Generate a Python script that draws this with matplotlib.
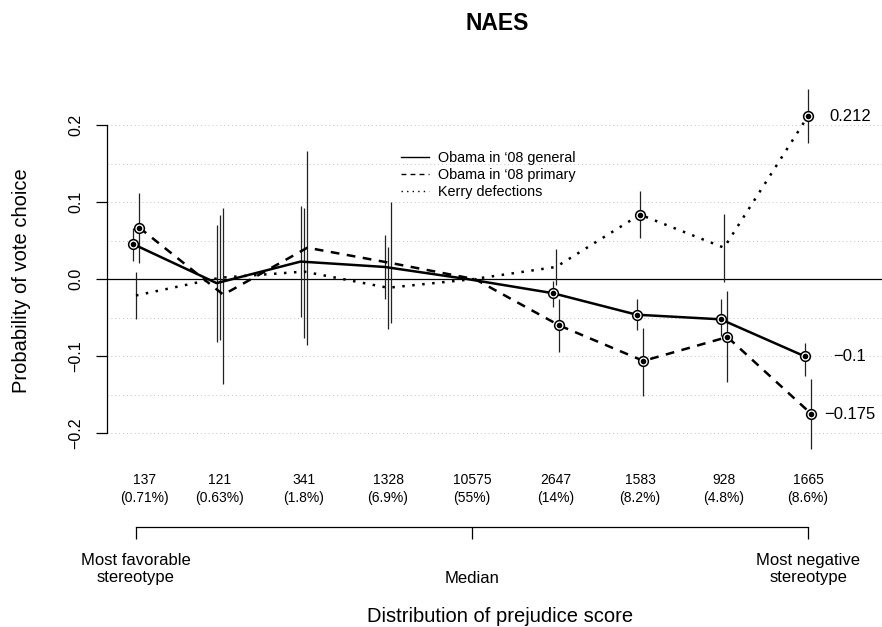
import matplotlib.pyplot as plt
import numpy as np
from matplotlib.lines import Line2D

plt.rcParams['font.family'] = ['Liberation Sans', 'DejaVu Sans']

# respondents in each prejudice-score group (most favorable -> most negative)
counts = [137, 121, 341, 1328, 10575, 2647, 1583, 928, 1665]

# effect estimates with 95% intervals; the median group is the baseline
general = [0.046, -0.005, 0.023, 0.016, 0.0, -0.018, -0.046, -0.052, -0.100]
general_lo = [0.024, -0.082, -0.049, -0.026, np.nan, -0.036, -0.066, -0.074, -0.125]
general_hi = [0.067, 0.071, 0.095, 0.058, np.nan, -0.002, -0.025, -0.026, -0.083]

primary = [0.067, -0.020, 0.041, 0.021, 0.0, -0.060, -0.106, -0.075, -0.175]
primary_lo = [0.021, -0.136, -0.085, -0.057, np.nan, -0.094, -0.151, -0.133, -0.220]
primary_hi = [0.112, 0.093, 0.167, 0.100, np.nan, -0.025, -0.063, -0.015, -0.130]

kerry = [-0.021, 0.002, 0.010, -0.011, 0.0, 0.016, 0.084, 0.041, 0.212]
kerry_lo = [-0.052, -0.079, -0.076, -0.064, np.nan, -0.008, 0.053, -0.003, 0.177]
kerry_hi = [0.009, 0.084, 0.093, 0.042, np.nan, 0.039, 0.115, 0.085, 0.247]

labels = ["Obama in \u201808 general", "Obama in \u201808 primary", "Kerry defections"]
yticks = [-0.2, -0.1, 0.0, 0.1, 0.2]
ygrid = [-0.2, -0.15, -0.1, -0.05, 0.05, 0.1, 0.15, 0.2]
bracket_text = ["Most favorable\nstereotype", "Median", "Most negative\nstereotype"]

W, H = 882, 627
fig = plt.figure(figsize=(W / 100, H / 100), dpi=100)
# plot region in pixels: left 107, right 887, top 80, bottom 460
ax = fig.add_axes([107 / W, (H - 460) / H, 780 / W, 380 / H])
ax.set_xlim(-0.345, 8.94)
ax.set_ylim(-0.2347, 0.2588)

x = np.arange(len(counts))

for g in ygrid:
    ax.axhline(g, color='#c4c4c4', lw=0.7, ls=(0, (1, 3)), zorder=0)
ax.axhline(0, color='black', lw=0.9, zorder=1)

series = [
    (general, general_lo, general_hi, -0.04, '-'),
    (primary, primary_lo, primary_hi, 0.04, (0, (3.5, 3))),
    (kerry, kerry_lo, kerry_hi, 0.0, (0, (1, 3))),
]

for vals, lo, hi, off, ls in series:
    vals, lo, hi = np.array(vals), np.array(lo), np.array(hi)
    xs = x + off
    ax.plot(xs, vals, color='black', lw=1.8, ls=ls, zorder=3)
    ok = ~np.isnan(lo)
    ax.vlines(xs[ok], lo[ok], hi[ok], color='#222222', lw=0.9, zorder=2)
    sig = ok & ((lo > 0) | (hi < 0))
    ax.plot(xs[sig], vals[sig], 'o', ms=7, mfc='white', mec='black', mew=1.1, zorder=4)
    ax.plot(xs[sig], vals[sig], 'o', ms=4, color='black', mew=0, zorder=5)
    last = vals[-1]
    ax.text(x[-1] + 0.5, last, ('%g' % last).replace('-', '\u2212'),
            ha='center', va='center', fontsize=12, clip_on=False)

# y axis in base-graphics style
for s in ['top', 'right', 'bottom']:
    ax.spines[s].set_visible(False)
ax.spines['left'].set_bounds(-0.2, 0.2)
ax.spines['left'].set_linewidth(0.9)
ax.set_xticks([])
ax.set_yticks(yticks)
ax.set_yticklabels([('%.1f' % t).replace('-', '\u2212') for t in yticks])
ax.tick_params(axis='y', length=8, width=0.9, pad=9, labelsize=11.5)
for lab in ax.get_yticklabels():
    lab.set_rotation(90)
    lab.set_va('center')
    lab.set_ha('right')

# group sizes under the plot
total = sum(counts)
for i, c in enumerate(counts):
    xi = i + (0.1 if i == 0 else 0)
    ax.text(xi, -0.2723, '%d\n(%.2g%%)' % (c, 100 * c / total), ha='center', va='center',
            fontsize=10, linespacing=1.35, clip_on=False)

# bracket marking the ends and median of the score
yb, yb2 = -0.3217, -0.337
ax.plot([x[0], x[-1]], [yb, yb], color='black', lw=0.9, clip_on=False)
ax.vlines([x[0], x[4], x[-1]], yb2, yb, color='black', lw=0.9, clip_on=False)
ax.text(x[0], -0.3763, bracket_text[0], ha='center', va='center', fontsize=12,
        linespacing=1.2, clip_on=False)
ax.text(x[4], -0.389, bracket_text[1], ha='center', va='center', fontsize=12, clip_on=False)
ax.text(x[-1], -0.3763, bracket_text[2], ha='center', va='center', fontsize=12,
        linespacing=1.2, clip_on=False)

handles = [
    Line2D([], [], color='black', lw=1, ls='-'),
    Line2D([], [], color='black', lw=1, ls=(0, (3.5, 3))),
    Line2D([], [], color='black', lw=1, ls=(0, (1, 3))),
]
ax.legend(handles, labels, loc='upper left', bbox_to_anchor=(400.7 / W, 1 - 151 / H),
          bbox_transform=fig.transFigure, frameon=False, fontsize=10.4,
          handlelength=1.95, handletextpad=0.6, labelspacing=0.2,
          borderpad=0, borderaxespad=0)

fig.text(497 / W, 1 - 23 / H, 'NAES', ha='center', va='center', fontsize=16.5,
         fontweight='bold')
fig.text(500 / W, 1 - 617 / H, 'Distribution of prejudice score', ha='center',
         va='center', fontsize=14.5)
fig.text(22 / W, 1 - 281 / H, 'Probability of vote choice', ha='center', va='center',
         rotation=90, fontsize=14.5)

fig.savefig('out.png', dpi=100)
